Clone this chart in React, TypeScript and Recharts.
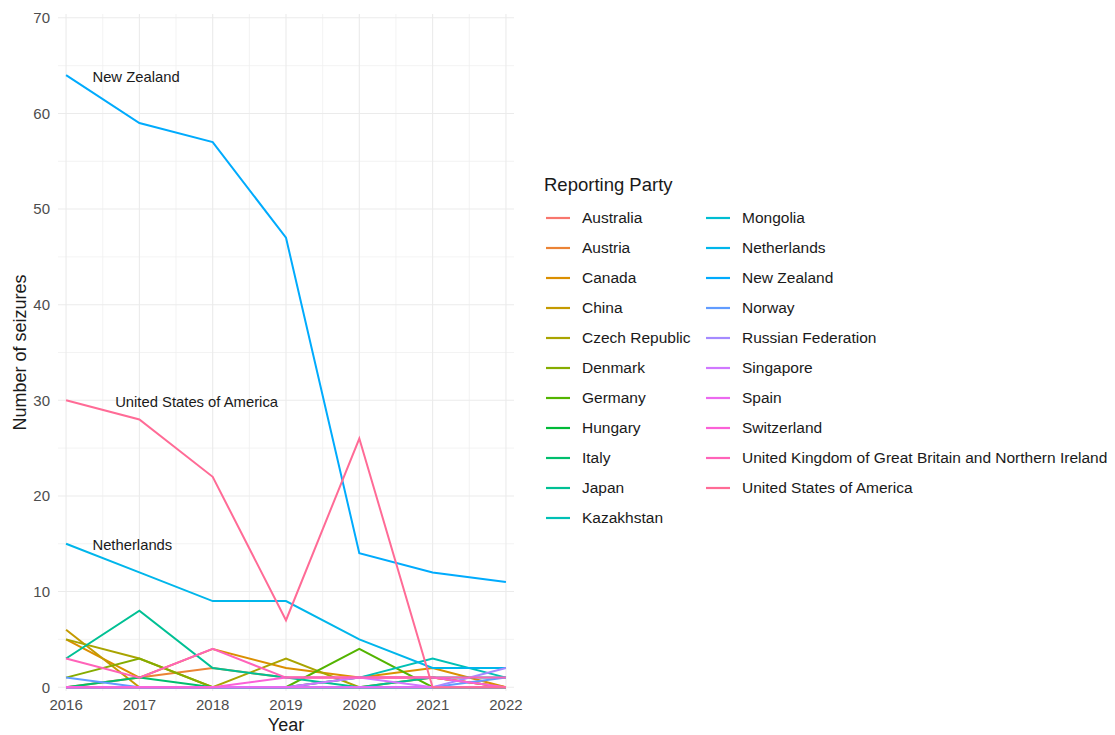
import React from 'react';
import { LineChart, Line, XAxis, YAxis, CartesianGrid, ReferenceDot, Label } from 'recharts';

const years = [2016, 2017, 2018, 2019, 2020, 2021, 2022];

const parties = [
  'Australia', 'Austria', 'Canada', 'China', 'Czech Republic', 'Denmark', 'Germany',
  'Hungary', 'Italy', 'Japan', 'Kazakhstan', 'Mongolia', 'Netherlands', 'New Zealand',
  'Norway', 'Russian Federation', 'Singapore', 'Spain', 'Switzerland',
  'United Kingdom of Great Britain and Northern Ireland', 'United States of America',
];

const australia = [0, 0, 0, 0, 1, 1, 0];
const austria = [0, 1, 2, 1, 1, 1, 0];
const canada = [5, 1, 4, 2, 1, 2, 0];
const china = [6, 0, 0, 0, 0, 1, 0];
const czechRepublic = [5, 3, 0, 3, 0, 0, 0];
const denmark = [1, 3, 0, 0, 0, 0, 0];
const germany = [0, 0, 0, 0, 4, 0, 0];
const hungary = [0, 0, 0, 0, 0, 0, 0];
const italy = [0, 1, 0, 0, 0, 0, 0];
const japan = [3, 8, 2, 1, 0, 1, 1];
const kazakhstan = [0, 0, 0, 0, 1, 3, 1];
const mongolia = [0, 0, 0, 0, 0, 0, 0];
const netherlands = [15, 12, 9, 9, 5, 2, 2];
const newZealand = [64, 59, 57, 47, 14, 12, 11];
const norway = [1, 0, 0, 0, 0, 0, 1];
const russianFederation = [0, 0, 0, 0, 0, 0, 2];
const singapore = [0, 0, 0, 0, 1, 0, 0];
const spain = [0, 0, 0, 0, 0, 0, 0];
const switzerland = [0, 0, 0, 1, 1, 1, 0];
const unitedKingdom = [3, 1, 4, 1, 1, 1, 1];
const unitedStates = [30, 28, 22, 7, 26, 0, 0];

const seriesValues = [
  australia, austria, canada, china, czechRepublic, denmark, germany, hungary, italy,
  japan, kazakhstan, mongolia, netherlands, newZealand, norway, russianFederation,
  singapore, spain, switzerland, unitedKingdom, unitedStates,
];

const yTicks = [0, 10, 20, 30, 40, 50, 60, 70];
const yMinor = [5, 15, 25, 35, 45, 55, 65];
const xMinor = [2016.5, 2017.5, 2018.5, 2019.5, 2020.5, 2021.5];

const labelNames = ['New Zealand', 'United States of America', 'Netherlands'];
const labelX = [2016.36, 2016.67, 2016.36];
const labelY = [63.8, 29.8, 14.9];

function hclHex(h: number, c = 100, l = 65): string {
  const hr = (h * Math.PI) / 180;
  const u = c * Math.cos(hr);
  const v = c * Math.sin(hr);
  const Xn = 95.047, Yn = 100, Zn = 108.883;
  const Y = Yn * Math.pow((l + 16) / 116, 3);
  const d = Xn + 15 * Yn + 3 * Zn;
  const un = (4 * Xn) / d;
  const vn = (9 * Yn) / d;
  const up = u / (13 * l) + un;
  const vp = v / (13 * l) + vn;
  const X = (Y * 9 * up) / (4 * vp);
  const Z = (Y * (12 - 3 * up - 20 * vp)) / (4 * vp);
  const x = X / 100, y = Y / 100, z = Z / 100;
  const r = 3.2404542 * x - 1.5371385 * y - 0.4985314 * z;
  const g = -0.969266 * x + 1.8760108 * y + 0.041556 * z;
  const b = 0.0556434 * x - 0.2040259 * y + 1.0572252 * z;
  const gam = (t: number) => {
    const tt = Math.max(0, Math.min(1, t));
    return tt <= 0.0031308 ? 12.92 * tt : 1.055 * Math.pow(tt, 1 / 2.4) - 0.055;
  };
  const to = (t: number) => Math.round(gam(t) * 255).toString(16).padStart(2, '0');
  return '#' + to(r) + to(g) + to(b);
}

const colors = parties.map((_, i) => hclHex(15 + (i * 360) / parties.length));

const data = years.map((yr, j) => {
  const row: Record<string, number> = { year: yr };
  parties.forEach((p, i) => {
    row[p] = seriesValues[i][j];
  });
  return row;
});

const FONT = '"Liberation Sans", Arial, sans-serif';

export default function App() {
  const col1 = parties.slice(0, 11);
  const col2 = parties.slice(11);
  return (
    <div style={{ position: 'absolute', left: 0, top: 0, width: 1115, height: 735, background: '#fff', fontFamily: FONT }}>
      <LineChart width={540} height={735} data={data} margin={{ top: 14, right: 26, bottom: 0, left: 0 }}>
        <CartesianGrid stroke="#F0F0F0" strokeWidth={0.8} horizontalValues={yMinor} verticalValues={xMinor} />
        <CartesianGrid stroke="#EBEBEB" strokeWidth={1.1} horizontalValues={yTicks} verticalValues={years} />
        <XAxis
          dataKey="year"
          type="number"
          domain={[2015.89, 2022.11]}
          ticks={years}
          allowDataOverflow
          height={44}
          tickLine={false}
          axisLine={false}
          interval={0}
          tick={{ fill: '#4D4D4D', fontSize: 15, fontFamily: FONT }}
        >
          <Label
            content={({ viewBox }: any) => (
              <text x={viewBox.x + viewBox.width / 2} y={731} textAnchor="middle" fontSize={18} fill="#1A1A1A" fontFamily={FONT}>
                Year
              </text>
            )}
          />
        </XAxis>
        <YAxis
          type="number"
          domain={[-0.4, 70.4]}
          ticks={yTicks}
          allowDataOverflow
          width={58}
          tickLine={false}
          axisLine={false}
          interval={0}
          tick={{ fill: '#4D4D4D', fontSize: 15, fontFamily: FONT }}
        >
          <Label
            content={({ viewBox }: any) => {
              const cy = viewBox.y + viewBox.height / 2;
              return (
                <text
                  x={26}
                  y={cy}
                  transform={`rotate(-90 26 ${cy})`}
                  textAnchor="middle"
                  fontSize={18}
                  fill="#1A1A1A"
                  fontFamily={FONT}
                >
                  Number of seizures
                </text>
              );
            }}
          />
        </YAxis>
        {parties.map((p, i) => (
          <Line
            key={p}
            type="linear"
            dataKey={p}
            stroke={colors[i]}
            strokeWidth={2}
            dot={false}
            activeDot={false}
            isAnimationActive={false}
          />
        ))}
        {labelNames.map((n, i) => (
          <ReferenceDot
            key={n}
            x={labelX[i]}
            y={labelY[i]}
            r={0}
            stroke="none"
            fill="none"
            label={({ viewBox }: any) => (
              <text
                x={viewBox.x + (viewBox.width || 0) / 2}
                y={viewBox.y + (viewBox.height || 0) / 2}
                dominantBaseline="central"
                textAnchor="start"
                fontSize={14.8}
                fill="#1A1A1A"
                fontFamily={FONT}
              >
                {n}
              </text>
            )}
          />
        ))}
      </LineChart>
      <div style={{ position: 'absolute', left: 544, top: 173, fontSize: 18.5, color: '#1A1A1A', lineHeight: '24px', whiteSpace: 'nowrap' }}>
        Reporting Party
      </div>
      {[col1, col2].map((col, ci) =>
        col.map((p, ri) => {
          const idx = ci * 11 + ri;
          const top = 218 + ri * 30 - 12;
          const keyLeft = ci === 0 ? 546 : 706;
          return (
            <div key={p} style={{ position: 'absolute', left: keyLeft, top, height: 24, display: 'flex', alignItems: 'center', whiteSpace: 'nowrap' }}>
              <svg width={24} height={24} style={{ display: 'block' }}>
                <line x1={0} y1={12} x2={24} y2={12} stroke={colors[idx]} strokeWidth={2.2} />
              </svg>
              <span style={{ marginLeft: 12, fontSize: 15.5, color: '#1A1A1A', lineHeight: '24px' }}>{p}</span>
            </div>
          );
        })
      )}
    </div>
  );
}
